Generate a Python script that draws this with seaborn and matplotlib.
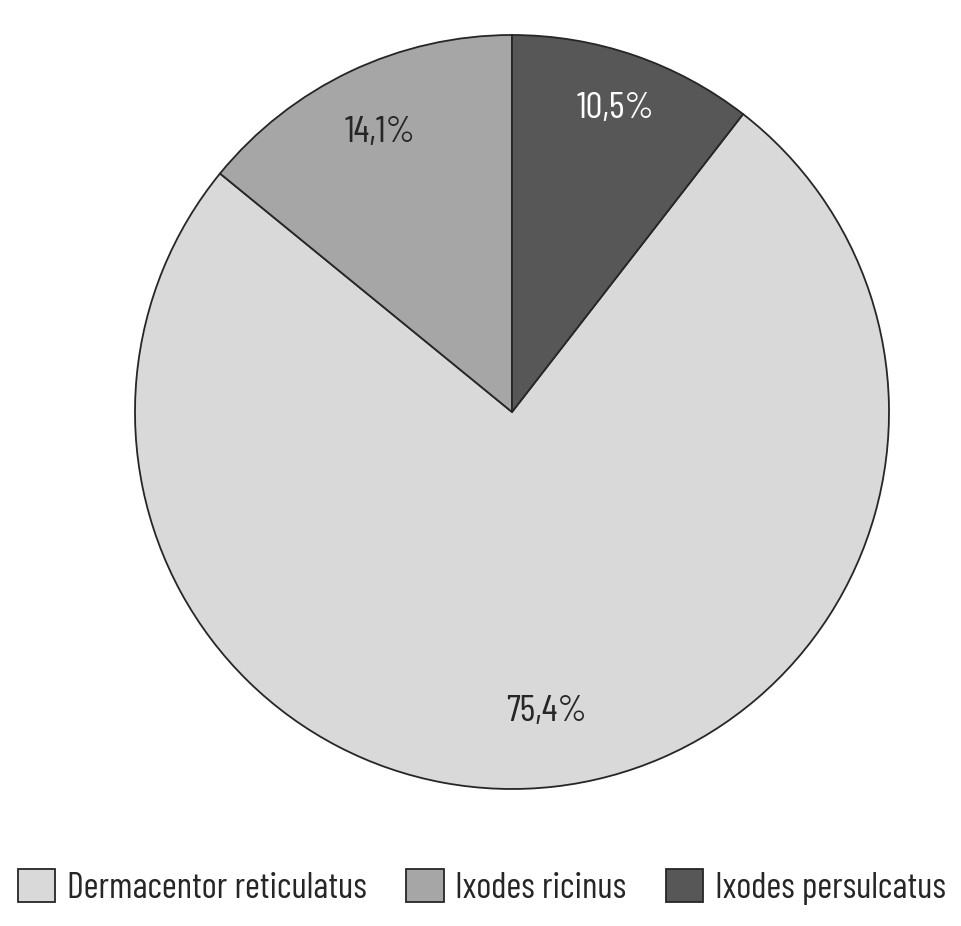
import matplotlib
matplotlib.use("Agg")
import matplotlib.pyplot as plt
import seaborn as sns
import numpy as np

# data
species = ["Dermacentor reticulatus", "Ixodes ricinus", "Ixodes persulcatus"]
shares = [75.4, 14.1, 10.5]
colors = ["#d9d9d9", "#a6a6a6", "#575757"]
label_colors = ["#262626", "#262626", "#ffffff"]
label_dist = [0.80, 0.82, 0.85]

sns.set_theme(style="white")
plt.rcParams['font.family'] = ['Barlow Condensed', 'DejaVu Sans']

fig = plt.figure(figsize=(9.62, 9.26), dpi=100)
ax = fig.add_axes([(512 - 377) / 962, (926 - 789) / 926, 754 / 962, 754 / 926])

# persulcatus starts at 12 o'clock going clockwise
start = 90 - shares[2] / 100 * 360
wedges, texts, autotexts = ax.pie(
    shares, colors=colors, startangle=start, counterclock=False,
    autopct=lambda p: f"{p:.1f}%".replace(".", ","), pctdistance=0.8,
    wedgeprops=dict(edgecolor="#262626", linewidth=1.3),
    textprops=dict(fontsize=27))

for w, t, c, d in zip(wedges, autotexts, label_colors, label_dist):
    ang = np.deg2rad((w.theta1 + w.theta2) / 2)
    t.set_position((d * np.cos(ang), d * np.sin(ang)))
    t.set_color(c)

ax.set_xlim(-1, 1)
ax.set_ylim(-1, 1)

fig.legend(wedges, species, loc="center", bbox_to_anchor=(482 / 962, 0.042),
           ncol=3, frameon=False, fontsize=26, handlelength=1.03, handleheight=1.0,
           handletextpad=0.33, columnspacing=1.1, borderpad=0.2)

fig.savefig("out.png", dpi=100, facecolor="white")
